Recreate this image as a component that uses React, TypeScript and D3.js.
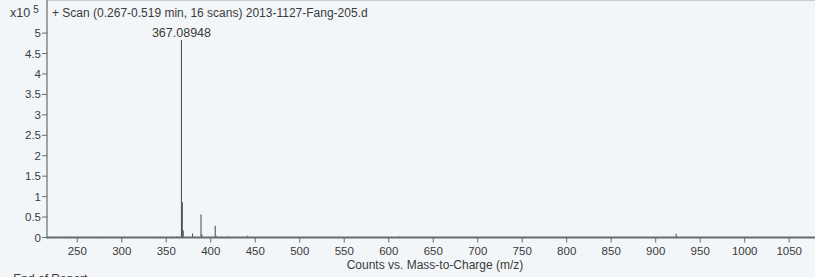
import React from "react";
import * as d3 from "d3";

const W = 815;
const H = 277;

// peaks: m/z and counts
const peakMz = [367.089, 368.09, 369.09, 379.5, 389.07, 390.07, 405.05, 406.05, 419.0, 441.0, 923.0];
const peakCounts = [483000, 86000, 17000, 10000, 56000, 8000, 29000, 4000, 3000, 4000, 9000];

// small baseline noise peaks
const noiseMz = [222, 228, 235, 241, 247, 258, 266, 273, 282, 290, 303, 311, 318, 327, 335, 345, 351, 356, 362, 375, 398, 412, 430, 452, 460, 471, 480, 495, 505, 518, 530, 545, 558, 571, 590, 612, 626, 640, 662, 684, 700, 722, 740, 753, 766, 780, 797, 820, 838, 860, 880, 896, 912, 940, 955, 972, 988, 1000, 1018, 1031, 1040, 1058, 1070];
const noiseCounts = [2000, 1500, 1800, 2500, 1200, 1500, 1000, 2000, 1300, 1200, 1800, 1000, 1500, 1100, 2000, 1500, 1200, 2500, 3000, 1800, 1500, 1600, 1500, 1200, 1500, 1000, 1200, 900, 1000, 1100, 1500, 1000, 1200, 900, 1100, 2500, 1000, 1500, 1100, 900, 1500, 1000, 1200, 2000, 1000, 1200, 900, 1500, 1000, 1200, 1500, 1000, 1100, 1300, 1200, 900, 1000, 1500, 1100, 1000, 1200, 900, 1000];

const xTicks = [250, 300, 350, 400, 450, 500, 550, 600, 650, 700, 750, 800, 850, 900, 950, 1000, 1050];
const yTicks = [0, 0.5, 1, 1.5, 2, 2.5, 3, 3.5, 4, 4.5, 5];

const title = "+ Scan (0.267-0.519 min, 16 scans) 2013-1127-Fang-205.d";
const peakLabel = "367.08948";
const xLabel = "Counts vs. Mass-to-Charge (m/z)";

export default function App() {
  const left = 47;
  const base = 237.5;
  const x = d3.scaleLinear().domain([216, 1079]).range([left, W]);
  const y = d3.scaleLinear().domain([0, 5.81]).range([base, 0]);
  const font = "'Liberation Sans', Arial, Helvetica, sans-serif";
  const textColor = "#3a3a3a";

  return (
    <svg
      width={W}
      height={H}
      style={{ position: "absolute", left: 0, top: 0, background: "#f3f6f9" }}
      fontFamily={font}
    >
      <rect x={0} y={0} width={W} height={H} fill="#f3f6f9" />
      {/* top frame */}
      <line x1={left} x2={W} y1={0.5} y2={0.5} stroke="#c8cbcf" strokeWidth={1} />
      {/* noise */}
      {noiseMz.map((m, i) => (
        <line key={"n" + i} x1={x(m)} x2={x(m)} y1={base} y2={y(noiseCounts[i] / 1e5)} stroke="#777" strokeWidth={1} />
      ))}
      {/* peaks */}
      {peakMz.map((m, i) => (
        <line key={"p" + i} x1={x(m)} x2={x(m)} y1={base} y2={y(peakCounts[i] / 1e5)} stroke="#555" strokeWidth={1.1} />
      ))}
      {/* baseline */}
      <line x1={left} x2={W} y1={base} y2={base} stroke="#6a6a6a" strokeWidth={2} />
      {/* y axis */}
      <line x1={left} x2={left} y1={0} y2={base + 1} stroke="#6a6a6a" strokeWidth={1.2} />
      {yTicks.map((t) => (
        <g key={"y" + t}>
          <line x1={left - 5} x2={left} y1={y(t)} y2={y(t)} stroke="#6a6a6a" strokeWidth={1} />
          <text x={left - 6} y={y(t) + 4} textAnchor="end" fontSize={11.5} fill={textColor}>
            {String(t)}
          </text>
        </g>
      ))}
      {xTicks.map((t) => (
        <g key={"x" + t}>
          <line x1={x(t)} x2={x(t)} y1={base} y2={base + 5} stroke="#6a6a6a" strokeWidth={1} />
          <text x={x(t)} y={base + 17} textAnchor="middle" fontSize={11.5} fill={textColor}>
            {String(t)}
          </text>
        </g>
      ))}
      {/* multiplier */}
      <text x={10} y={17} fontSize={12.5} fill={textColor}>
        x10
        <tspan dx={3} dy={-4} fontSize={10}>5</tspan>
      </text>
      <text x={52} y={16.5} fontSize={12} fill={textColor}>{title}</text>
      <text x={x(peakMz[0])} y={36.5} textAnchor="middle" fontSize={12.5} fill={textColor}>{peakLabel}</text>
      <text x={435} y={268.5} textAnchor="middle" fontSize={12} fill={textColor}>{xLabel}</text>
      <text x={3} y={283} fontSize={12} fill={textColor}>~ End of Report</text>
    </svg>
  );
}
